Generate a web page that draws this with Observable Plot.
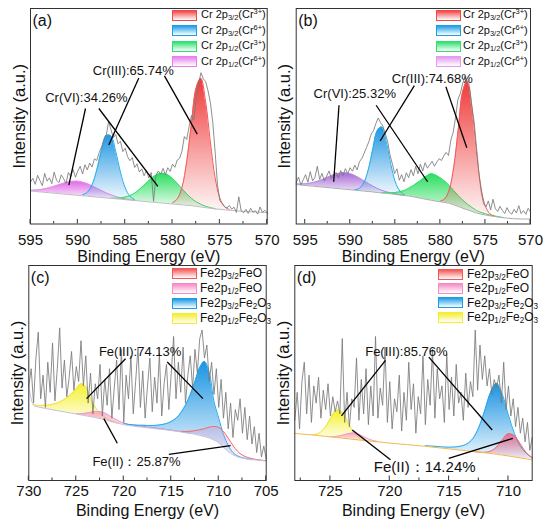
<!DOCTYPE html>
<html>
<head>
<meta charset="utf-8">
<script src="https://cdn.jsdelivr.net/npm/d3@7"></script>
<script src="https://cdn.jsdelivr.net/npm/@observablehq/plot@0.6"></script>
<style>
  html, body { margin: 0; padding: 0; background: #fff; }
  #fig { position: relative; width: 550px; height: 529px; overflow: hidden; font-family: "Liberation Sans", Arial, sans-serif; background: #fff; }
  .pnl { position: absolute; width: 275px; }
  .sw { position: absolute; width: 25px; height: 11px; box-sizing: border-box; }
  .lb { position: absolute; white-space: nowrap; line-height: 1.2; color: #111; transform: translateY(-52%); }
  sub { font-size: 0.68em; vertical-align: -0.3em; line-height: 0; }
  sup { font-size: 0.68em; vertical-align: 0.55em; line-height: 0; }
</style>
</head>
<body>
<div id="fig"></div>
<script>
// ---------------- Panel (a): Cr 2p ----------------
const aGridStart = 595, aRawStart = 595, aRawStep = 0.25;
const aBg = [15.3,15.1,14.9,14.7,14.5,14.3,14.1,13.9,13.7,13.5,13.3,13.1,12.9,12.7,12.5,12.3,12.1,11.9,11.7,11.5,11.3,11.1,10.9,10.7,10.5,10.3,10.1,9.9,9.7,9.5,9.3,9.1,8.9,8.7,8.5,8.2,7.9,7.6,7.3,7.0,6.8,6.6,6.4,6.2,6.0,5.9,5.8,5.6,5.5,5.4,5.2];
const aCr6p12 = [0.35,0.65,1.05,1.6,2.3,3.2,4.1,5.0,5.8,6.3,6.5,6.3,5.8,5.0,4.1,3.2,2.3,1.6,1.05,0.65,0.35,0.2,0.1];
const aCr6p32 = [0,0,0,0,0,0,0,0,0,0, 0, 0.4,1.8,5.5,12.6,22,29,29,22,12.6,5.5,1.8,0.4];
const aCr3p12 = [0,0,0,0,0,0,0,0,0,0, 0,0,0,0,0,0,0, 0.1,0.3,0.6,1.2,2.1,3.4,5.3,7.45,9.8,11.8,13.3,13.8,13.3,11.8,9.8,7.45,5.3,3.4,2.1,1.2,0.6,0.3,0.1];
const aCr3p32 = [0,0,0,0,0,0,0,0,0,0, 0,0,0,0,0,0,0,0,0,0, 0,0,0,0,0,0,0,0,0,0, 0.6,2.5,8.1,20.3,38.3,54.9,59.7,49.1,30.7,14.5,5.2,1.4,0.3];
const aRaw = [19.5,21.2,18.4,22.6,20.1,17.8,23.5,19.9,21.4,18.7,24.1,20.3,19.2,22.8,21.0,18.9,23.9,22.1,25.3,21.7,24.6,26.8,23.2,27.5,25.1,28.3,26.4,30.2,29.5,33.1,35.8,38.6,41.2,47.5,43.8,40.1,41.5,37.2,38.4,33.6,35.2,31.3,29.4,30.8,26.2,27.9,24.1,25.6,22.4,24.8,21.3,23.9,10.5,22.7,24.6,23.1,25.8,22.9,26.1,24.4,27.8,26.3,29.7,30.5,33.8,40.6,39.2,45.1,50.3,48.2,58.6,64.9,70.2,67.4,66.1,61.8,56.3,47.2,33.5,18.2,10.8,9.5,8.1,7.4,8.6,6.9,7.8,5.4,12.6,6.1,5.2,6.8,4.9,7.3,5.5,6.2,4.6,7.9,5.3,6.4,5.1];
const aLabels = [["Cr(VI):34.26%", 589.1, 58.6, "middle", 13], ["Cr(III):65.74%", 584.15, 71.1, "middle", 13]];
const aLinks = [[589.19,53.6,590.95,18.0],[587.78,53.6,581.55,17.5],[583.56,67.7,586.73,36.7],[580.85,68.75,577.39,41.7]];

// ---------------- Panel (b): Cr 2p ----------------
const bGridStart = 596, bRawStart = 596, bRawStep = 0.26;
const bBg = [18.3,18.1,17.9,17.7,17.5,17.3,17.1,16.9,16.7,16.5,16.3,16.1,15.9,15.7,15.5,15.3,15.1,14.9,14.6,14.4,14.2,14.0,13.7,13.5,13.2,13.0,12.6,12.2,11.8,11.4,11.0,10.6,10.3,10.0,9.6,8.9,8.1,7.3,6.6,5.9,5.1,4.6,4.2,3.8,3.5,3.2,2.9,2.7,2.5,2.4,2.3,2.3,2.3];
const bCr6p12 = [0.25,0.45,0.77,1.24,1.9,2.7,3.7,4.8,5.9,6.8,7.4,7.6,7.4,6.8,5.9,4.8,3.7,2.7,1.9,1.24,0.77,0.45,0.25,0.13,0.06];
const bCr6p32 = [0,0,0,0,0,0,0,0,0,0, 0,0,0, 0.2,1.0,3.8,10.1,19.8,28.7,30.6,23.9,13.7,5.8,1.8,0.4];
const bCr3p12 = [0,0,0,0,0,0,0,0,0,0, 0,0,0,0,0,0,0,0,0, 0.15,0.3,0.5,0.9,1.5,2.3,3.6,5.2,7.0,9.0,10.9,12.3,12.0,11.1,9.8,8.2,6.5,5.0,3.7,2.6,1.8,1.2,0.8,0.5,0.35,0.25,0.15,0.1];
const bCr3p32 = [0,0,0,0,0,0,0,0,0,0, 0,0,0,0,0,0,0,0,0,0, 0,0,0,0,0,0,0,0,0,0, 0,0, 0.3,1.7,6.5,18,36.5,54.5,59.8,48.2,28.5,12.4,4.0,0.9,0.2];
const bRaw = [19.2,21.8,18.1,20.5,22.9,19.4,24.3,20,21.6,26.8,20.7,23.5,19.9,22.2,24.6,21.1,22.7,23.9,21.4,24.8,22.6,25.7,23.2,26.1,24.5,27.3,25.1,28.9,30.4,32.8,35.5,38.2,41.7,43.3,46.6,49.2,47.1,45.4,41.8,38.5,32.2,28.1,23.4,25.6,20.3,22.9,19.6,23.8,21.5,25.2,22.4,26.7,23.3,27.8,24.6,28.4,25.9,27.5,29.1,26.8,28.7,30.3,29.5,31.6,33.2,31.8,38.9,42.5,49.3,57.8,60.4,64.9,68.5,65.2,62.7,54.4,46.8,35.1,23.5,14.8,9.4,7.9,10.7,6.6,11.5,7.1,5.8,8.2,6.3,4.9,7.6,5.4,4.6,6.8,5.1,8.5,4.8,6.2,4.5,7.3,5.6];
const bLabels = [["Cr(VI):25.32%", 589.5, 60.3, "middle", 13], ["Cr(III):74.68%", 580.9, 67.4, "middle", 13]];
const bLinks = [[591.25,55.1,591.84,19.6],[587.13,55.1,581.42,19.6],[582.89,64.2,586.69,38.5],[579.39,63.7,577.07,35.4]];

// ---------------- Panel (c): Fe 2p ----------------
const cGridStart = 730, cRawStart = 730, cRawStep = 0.25;
const cBg = [44,35,34.2,33.75,33.3,32.9,32.5,32.1,31.7,31.3,30.9,30.5,30.1,29.7,29.3,28.8,28.3,27.6,27.0,26.5,26.0,25.6,25.3,25.0,24.8,24.5,24.3,24.0,23.8,23.5,23.2,22.9,22.6,22.2,21.9,21.5,21.0,20.4,19.8,18.8,17.5,15.5,13.5,12.0,11.0,10.4,10.0,9.7,9.5,9.3,9.1];
const cFeOp32 = [0,0,0,0,0,0,0,0,0,0, 0,0,0,0,0,0,0,0,0,0, 0,0,0,0,0,0,0,0,0,0, 0,0, 0.3,0.6,1.0,1.7,2.6,3.7,5.0,6.3,7.2,7.3,6.2,4.3,2.5,1.4,0.8,0.45,0.25,0.15,0.1];
const cFeOp12 = [0,0,0,0,0,0,0,0,0,0, 0.2,0.6,1.2,2.0,2.8,3.2,3.1,2.5,1.8,1.1,0.7,0.5,0.4,0.35,0.3,0.3,0.3,0.3,0.3,0.25,0.25,0.2,0.2,0.15,0.1];
const cFe2O3p32 = [0,0,0,0,0,0,0,0,0,0, 0,0,0,0,0,0,0,0,0,0, 0.4,0.5,0.6,0.7,0.9,1.1,1.3,1.7,2.2,3.0,4.2,6.0,8.8,12.8,18.0,24.5,31.5,35.0,30.5,18.0,11.5,6.0,2.8,1.0,0.4,0.2,0.1,0.05];
const cFe2O3p12 = [0, 0.3,0.7,1.2,1.8,2.6,3.6,5.0,6.8,9.0,11.8,14.5,13.6,8.5,4.8,2.5,1.2,0.6,0.3,0.1];
const cRaw = [44,52,36,57,69,38,49,34,55,41,64,37,52,71,43,56,39,48,60,42,53,46,65,44,58,36,50,31,45,38,54,30,47,35,52,29,43,56,33,61,27,49,38,58,31,46,62,34,51,29,44,57,32,48,36,59,30,45,54,33,50,67,38,55,41,62,36,49,58,43,61,50,66,70,57,63,46,55,40,52,34,47,29,41,24,36,20,33,28,38,22,34,19,30,17,25,13,22,11,16,10];
const cLabels = [["Fe(III):74.13%", 718.28, 60, "middle", 13], ["Fe(II)：25.87%", 723.3, 8.8, "start", 13]];
const cLinks = [[719.81,56.6,723.92,38.1],[715.42,55.1,711.66,38.1],[720.68,17.3,722.1,28.8],[715.25,12.2,708.75,16.2]];

// ---------------- Panel (d): Fe 2p ----------------
const dGridStart = 728, dRawStart = 728, dRawStep = 0.2;
const dBg = [21.9,21.65,21.4,21.15,20.9,20.6,20.3,20.0,19.7,19.4,19.1,18.8,18.5,18.25,18.0,17.7,17.4,17.15,16.9,16.65,16.4,16.15,15.9,15.6,15.3,15.0,14.7,14.4,14.1,13.8,13.5,13.2,12.9,12.55,12.2,11.8,11.4,10.95,10.5,10.05,9.6];
const dFeOp32 = [0,0,0,0,0,0,0,0,0,0, 0,0,0,0,0,0,0,0,0,0, 0,0,0,0,0,0,0,0,0,0, 0.02,0.05,0.2,1.1,3.4,7.2,10.3,9.9,6.5,2.9,0.9];
const dFeOp12 = [0,0,0,0,0,0, 0.1,0.5,1.3,2.4,3.0,2.4,1.3,0.5,0.15];
const dFe2O3p32 = [0,0,0,0,0,0,0,0,0,0, 0,0,0,0,0,0,0,0,0,0, 0,0, 0.35,0.4,0.5,0.6,0.8,1.2,1.9,3.2,6.0,11.5,19.5,28.5,33.0,28.0,19.0,11.0,5.5,2.6,1.1];
const dFe2O3p12 = [0,0,0, 0.2,1.0,3.7,8.5,12.7,12.2,7.5,2.9,0.7,0.1];
const dRaw = [28,41,24,46,55,31,49,27,44,36,48,29,42,33,45,30,39,32,37,31,66,27,41,25,38,34,57,28,47,31,52,26,44,30,67,29,43,35,62,27,46,24,38,32,49,23,41,28,55,33,45,22,39,31,58,26,47,35,61,29,52,38,44,27,59,33,48,30,54,36,41,28,50,34,46,39,70,42,63,47,58,44,52,40,47,43,49,36,55,33,44,30,38,25,34,22,29,18,27,14,20];
const dLabels = [["Fe(III):85.76%", 718.6, 60, "middle", 13], ["Fe(II)：14.24%", 721.34, 6.2, "start", 15]];
const dLinks = [[720.36,55.9,724.07,30.1],[716.71,57.4,711.37,23.5],[719.94,9.6,723.16,23.5],[715.03,10.3,709.63,19.6]];

// ---------------- axis ticks & legend text ----------------
const crMajor = [595, 590, 585, 580, 575, 570];
const crMinor = [592.5, 587.5, 582.5, 577.5, 572.5];
const cMajor = [730, 725, 720, 715, 710, 705];
const cMinor = [727.5, 722.5, 717.5, 712.5, 707.5];
const dMajor = [725, 720, 715, 710];
const dMinor = [727.5, 722.5, 717.5, 712.5];
const crLegend = ["Cr 2p<sub>3/2</sub>(Cr<sup>3+</sup>)", "Cr 2p<sub>3/2</sub>(Cr<sup>6+</sup>)", "Cr 2p<sub>1/2</sub>(Cr<sup>3+</sup>)", "Cr 2p<sub>1/2</sub>(Cr<sup>6+</sup>)"];
const feLegend = ["Fe2p<sub>3/2</sub>FeO", "Fe2p<sub>1/2</sub>FeO", "Fe2p<sub>3/2</sub>Fe<sub>2</sub>O<sub>3</sub>", "Fe2p<sub>1/2</sub>Fe<sub>2</sub>O<sub>3</sub>"];

const FONT = '"Liberation Sans", Arial, Helvetica, sans-serif';

function inTicks(major, minor) {
  return (index, scales, values, dims) => {
    const g = d3.create("svg:g").attr("stroke", "#333").attr("stroke-width", 1);
    const yb = dims.height - dims.marginBottom;
    for (const t of major) g.append("line").attr("x1", scales.x(t)).attr("x2", scales.x(t)).attr("y1", yb).attr("y2", yb - 4.5);
    for (const t of minor) g.append("line").attr("x1", scales.x(t)).attr("x2", scales.x(t)).attr("y1", yb).attr("y2", yb - 2.5);
    return g.node();
  };
}

function drawPanel(p) {
  const defs = () => {
    const d = d3.create("svg:defs");
    p.comps.forEach((c, k) => {
      const g = d.append("linearGradient").attr("id", p.id + "g" + k)
        .attr("x1", 0).attr("y1", 0).attr("x2", 0).attr("y2", 1);
      g.append("stop").attr("offset", 0).attr("stop-color", c.fill).attr("stop-opacity", c.op ?? 0.95);
      g.append("stop").attr("offset", 1).attr("stop-color", c.fill).attr("stop-opacity", 0.05);
    });
    return d.node();
  };
  const marks = [defs];
  p.comps.forEach((c, k) => {
    const rows = [];
    c.vals.forEach((v, i) => { if (v > 0) rows.push({E: p.g0 - 0.5 * i, b: p.bg[i], t: p.bg[i] + v}); });
    marks.push(Plot.areaY(rows, {x: "E", y1: "b", y2: "t", fill: `url(#${p.id}g${k})`, curve: "catmull-rom"}));
    marks.push(Plot.lineY(rows, {x: "E", y: "t", stroke: c.stroke, strokeWidth: 1, curve: "catmull-rom"}));
  });
  const bgRows = p.bg.map((v, i) => ({E: p.g0 - 0.5 * i, I: v}));
  marks.push(Plot.lineY(bgRows, {x: "E", y: "I", stroke: p.bgColor, strokeWidth: 1, curve: "catmull-rom"}));
  const rawRows = p.raw.map((v, j) => ({E: p.r0 - p.rs * j, I: v}));
  marks.push(Plot.lineY(rawRows, {x: "E", y: "I", stroke: "#7a7a7a", strokeWidth: 0.85}));
  marks.push(Plot.link(p.links, {x1: d => d[0], y1: d => d[1], x2: d => d[2], y2: d => d[3], stroke: "#000", strokeWidth: 1.3}));
  p.labels.forEach(l => {
    marks.push(Plot.text([l], {x: d => d[1], y: d => d[2], text: d => d[0], textAnchor: l[3], lineAnchor: "middle", fontSize: l[4], fill: "#111"}));
  });
  marks.push(Plot.frame({stroke: "#333", strokeWidth: 1}));
  marks.push(inTicks(p.major, p.minor));
  marks.push(Plot.text(p.major, {x: d => d, text: d => String(d), frameAnchor: "bottom", dy: p.pad, lineAnchor: "top", fontSize: 15, fill: "#111"}));
  marks.push(Plot.text(["Binding Energy (eV)"], {text: d => d, frameAnchor: "bottom", dy: p.titleDy, lineAnchor: "middle", fontSize: 16, fill: "#111"}));
  marks.push(Plot.text(["Intensity (a.u.)"], {text: d => d, frameAnchor: "left", dx: -11, rotate: -90, textAnchor: "middle", lineAnchor: "middle", fontSize: 16.5, fill: "#111"}));
  marks.push(Plot.text([p.tag], {text: d => d, frameAnchor: "top-left", dx: 2, dy: 12, textAnchor: "start", lineAnchor: "middle", fontSize: 16, fill: "#111"}));

  const svg = Plot.plot({
    width: 275, height: p.h,
    marginLeft: p.mL, marginRight: p.mR, marginTop: p.mT, marginBottom: p.mB,
    x: {domain: p.dom, axis: null},
    y: {domain: [0, 100], axis: null},
    style: {fontFamily: FONT, background: "transparent", overflow: "visible"},
    marks
  });
  const div = document.createElement("div");
  div.className = "pnl";
  div.style.left = p.left + "px";
  div.style.top = p.top + "px";
  div.appendChild(svg);
  const fig = document.getElementById("fig");
  fig.appendChild(div);

  p.legend.labels.forEach((lab, k) => {
    const col = p.legend.colors[k];
    const sw = document.createElement("div");
    sw.className = "sw";
    sw.style.left = p.legend.sx + "px";
    sw.style.top = (p.legend.rows[k] - 5.5) + "px";
    sw.style.background = `linear-gradient(to bottom, ${col}, #ffffff)`;
    sw.style.border = `1px solid ${col}`;
    fig.appendChild(sw);
    const tx = document.createElement("div");
    tx.className = "lb";
    tx.style.left = p.legend.tx + "px";
    tx.style.top = p.legend.rows[k] + "px";
    tx.style.fontSize = p.legend.fs + "px";
    tx.style.fontFamily = FONT;
    tx.innerHTML = lab;
    fig.appendChild(tx);
  });
}

const crLegColors = ["#f24848", "#1d9fe8", "#2ee070"];

drawPanel({
  id: "pa", tag: "(a)", left: 0, top: 0, h: 262, mL: 30, mR: 8.3, mT: 8, mB: 38.5,
  dom: [595, 570], g0: aGridStart, bg: aBg, r0: aRawStart, rs: aRawStep, raw: aRaw,
  bgColor: "#bdbdbd", pad: 10, titleDy: 32.5, major: crMajor, minor: crMinor,
  comps: [
    {vals: aCr6p12, fill: "#e060e6", stroke: "#e88cec"},
    {vals: aCr6p32, fill: "#1590e0", stroke: "#22aef0"},
    {vals: aCr3p12, fill: "#1fdc55", stroke: "#2ee070"},
    {vals: aCr3p32, fill: "#ef2f2f", stroke: "#f25a5a"}
  ],
  labels: aLabels, links: aLinks,
  legend: {labels: crLegend, colors: [...crLegColors, "#e680ee"], sx: 172, tx: 201, rows: [15, 30.5, 46, 61.5], fs: 11}
});

drawPanel({
  id: "pb", tag: "(b)", left: 275, top: 0, h: 262, mL: 20.7, mR: 20, mT: 8, mB: 38.5,
  dom: [596, 570], g0: bGridStart, bg: bBg, r0: bRawStart, rs: bRawStep, raw: bRaw,
  bgColor: "#ababab", pad: 10, titleDy: 32.5, major: crMajor, minor: crMinor,
  comps: [
    {vals: bCr6p12, fill: "#a25fd4", stroke: "#bb90e2"},
    {vals: bCr6p32, fill: "#1590e0", stroke: "#22aef0"},
    {vals: bCr3p12, fill: "#1fdc55", stroke: "#2ee070"},
    {vals: bCr3p32, fill: "#ef2f2f", stroke: "#f25a5a"}
  ],
  labels: bLabels, links: bLinks,
  legend: {labels: crLegend, colors: [...crLegColors, "#e39af0"], sx: 436, tx: 463, rows: [15, 30.5, 46, 61.5], fs: 11}
});

const feLegColors = ["#f25858", "#f58cc4", "#1c9ce6", "#f2ee30"];

drawPanel({
  id: "pc", tag: "(c)", left: 0, top: 262, h: 267, mL: 28.3, mR: 9.3, mT: 3, mB: 49,
  dom: [730, 705], g0: cGridStart, bg: cBg, r0: cRawStart, rs: cRawStep, raw: cRaw,
  bgColor: "#c4bede", pad: 5, titleDy: 30.5, major: cMajor, minor: cMinor,
  comps: [
    {vals: cFe2O3p12, fill: "#f4f020", stroke: "#eee040"},
    {vals: cFeOp12, fill: "#f77ab8", stroke: "#f59ac8", op: 0.6},
    {vals: cFe2O3p32, fill: "#0b8de0", stroke: "#22aaf0"},
    {vals: cFeOp32, fill: "#d890c8", stroke: "#f26a6a", op: 0.35}
  ],
  labels: cLabels, links: cLinks,
  legend: {labels: feLegend, colors: feLegColors, sx: 172, tx: 200, rows: [273, 288, 303, 318], fs: 12}
});

drawPanel({
  id: "pd", tag: "(d)", left: 275, top: 262, h: 267, mL: 19.3, mR: 18.3, mT: 3, mB: 49,
  dom: [728, 708], g0: dGridStart, bg: dBg, r0: dRawStart, rs: dRawStep, raw: dRaw,
  bgColor: "#f0b84a", pad: 5, titleDy: 30.5, major: dMajor, minor: dMinor,
  comps: [
    {vals: dFe2O3p12, fill: "#f4f020", stroke: "#eee040"},
    {vals: dFeOp12, fill: "#f77ab8", stroke: "#f59ac8", op: 0.7},
    {vals: dFe2O3p32, fill: "#0b8de0", stroke: "#22aaf0"},
    {vals: dFeOp32, fill: "#f05070", stroke: "#f26a6a", op: 0.75}
  ],
  labels: dLabels, links: dLinks,
  legend: {labels: feLegend, colors: feLegColors, sx: 438, tx: 467, rows: [274, 288.3, 302.6, 317], fs: 12}
});
</script>
</body>
</html>
